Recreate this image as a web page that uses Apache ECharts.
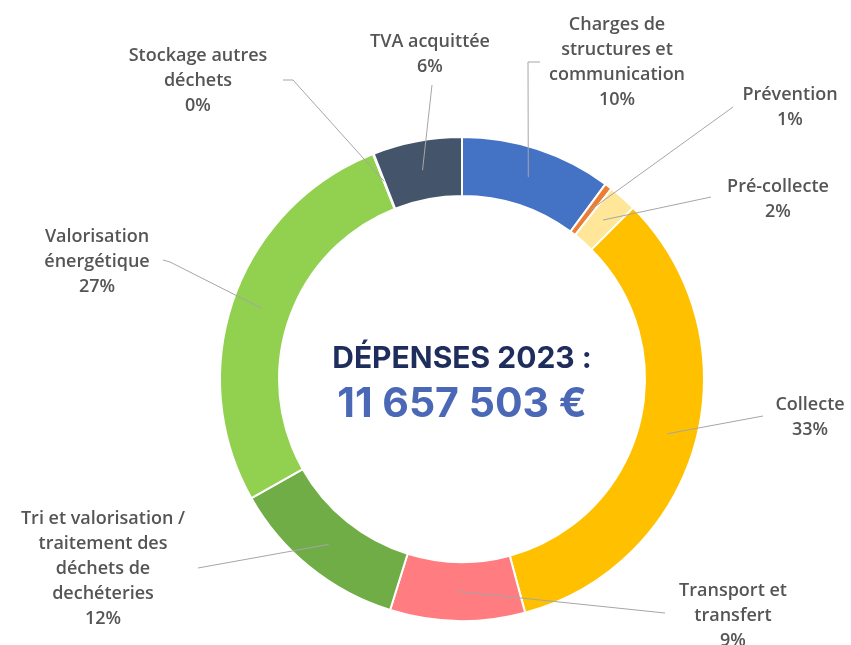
<!DOCTYPE html>
<html>
<head>
<meta charset="utf-8">
<script src="https://cdn.jsdelivr.net/npm/echarts@6/dist/echarts.min.js"></script>
<style>
  html, body { margin: 0; padding: 0; background: #fff; }
  #chart { width: 851px; height: 645px; }
</style>
</head>
<body>
<div id="chart"></div>
<script>
// categories (line breaks as in the original labels)
let categories = [
    'Charges de\nstructures et\ncommunication',
    'Prévention',
    'Pré-collecte',
    'Collecte',
    'Transport et\ntransfert',
    'Tri et valorisation /\ntraitement des\ndéchets de\ndechéteries',
    'Valorisation\nénergétique',
    'Stockage autres\ndéchets',
    'TVA acquittée'
];
// share of spending, in %
let shares = [10.1, 0.5, 1.9, 33.3, 9.0, 12.0, 27.2, 0.05, 5.95];
let colors = ['#4472C4', '#ED7D31', '#FFE699', '#FFC000', '#FF7C80', '#70AD47', '#92D050', '#A5A5A5', '#44546A'];

let totalLabel = '11 657 503 €';
let titleLabel = 'DÉPENSES 2023 :';

// label placement (text block centre) and where its leader line ends
let labelPos = [[617, 62], [790, 107], [778, 199], [810, 417], [733, 616], [103, 569], [97, 262], [198, 81], [430, 54]];
let lineEnd = [[540, 62], [733, 107], [711, 197], [763, 416], [665, 613], [198, 568], [163, 260], [283, 80], [432, 85]];
let lineBend = [[528, 62], null, null, null, null, null, [170, 262], [293, 80], null];

let cx = 462, cy = 379, rIn = 183, rOut = 242;

// mid angle of each slice, clockwise from top
let total = shares.reduce((a, b) => a + b, 0);
let midAngles = [];
let acc = 0;
shares.forEach(v => {
    midAngles.push((acc + v / 2) / total * Math.PI * 2);
    acc += v;
});

let pieData = categories.map((c, i) => ({
    name: c,
    value: shares[i],
    itemStyle: { color: colors[i] }
}));

let chart = echarts.init(document.getElementById('chart'));
let option = {
    animation: false,
    graphic: [{
        type: 'text',
        x: cx, y: 359,
        style: {
            text: titleLabel,
            fill: '#1F2D5C',
            font: 'bold 30px Inter',
            textAlign: 'center',
            textVerticalAlign: 'middle'
        }
    }, {
        type: 'text',
        x: cx, y: 405,
        style: {
            text: totalLabel,
            fill: '#4A68B5',
            font: 'bold 41px Inter',
            textAlign: 'center',
            textVerticalAlign: 'middle'
        }
    }],
    series: [{
        // coloured ring
        type: 'pie',
        z: 2,
        center: [cx, cy],
        radius: [rIn, rOut],
        startAngle: 90,
        clockwise: true,
        silent: true,
        itemStyle: { borderColor: '#fff', borderWidth: 2 },
        label: { show: false },
        labelLine: { show: false },
        data: pieData
    }, {
        // same ring, transparent, only to carry labels and leader lines on top
        type: 'pie',
        z: 3,
        center: [cx, cy],
        radius: [rIn, rOut],
        startAngle: 90,
        clockwise: true,
        avoidLabelOverlap: false,
        itemStyle: { color: 'rgba(0,0,0,0)', borderWidth: 0 },
        label: {
            show: true,
            position: 'outside',
            color: '#555555',
            fontFamily: 'Open Sans',
            fontWeight: 600,
            fontSize: 18,
            lineHeight: 25,
            align: 'center',
            formatter: p => p.name + '\n' + Math.round(shares[p.dataIndex]) + '%'
        },
        labelLine: {
            show: true,
            lineStyle: { color: '#A6A6A6', width: 1 }
        },
        labelLayout: params => {
            let i = params.dataIndex;
            let a = midAngles[i];
            let rMid = (rIn + rOut) / 2;
            let start = [cx + rMid * Math.sin(a), cy - rMid * Math.cos(a)];
            let end = lineEnd[i];
            let bend = lineBend[i] || end;
            return {
                x: labelPos[i][0],
                y: labelPos[i][1],
                align: 'center',
                verticalAlign: 'middle',
                labelLinePoints: [start, bend, end]
            };
        },
        data: categories.map((c, i) => ({ name: c, value: shares[i] }))
    }]
};
chart.setOption(option);
window.onresize = () => { chart.resize(); };
</script>
</body>
</html>
